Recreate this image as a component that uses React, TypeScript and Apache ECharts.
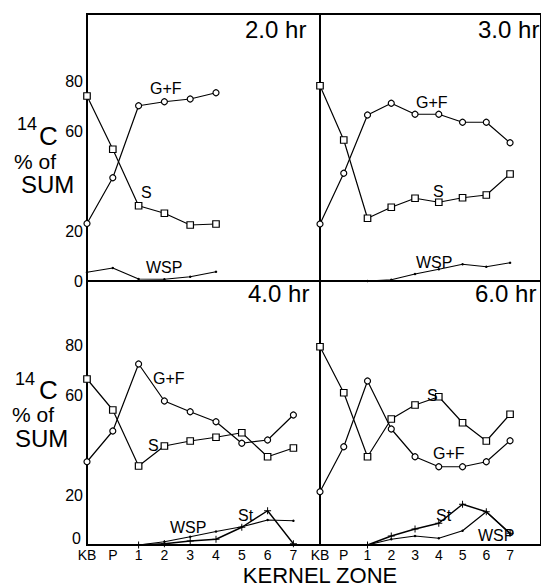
import React, { useEffect, useRef } from "react";
import * as echarts from "echarts";

const zones = ["KB", "P", "1", "2", "3", "4", "5", "6", "7"];
const yTickLabelsTop = [0, 20, 60, 80];
const yTickLabelsBottom = [20, 60, 80];

// 2.0 hr
const h2GF = [23, 41.3, 70.1, 71.7, 72.8, 75.3];
const h2S = [74, 52.7, 30.1, 27.1, 22.4, 22.8];
const h2WSP = [3.5, 5.2, 0.8, 0.7, 1.7, 3.7];
// 3.0 hr
const h3GF = [22.8, 43.1, 66.4, 71.1, 66.7, 66.7, 63.5, 63.5, 55.3];
const h3S = [78.1, 56.4, 25.1, 29.5, 33.1, 31.5, 33.3, 34.4, 42.8];
const h3WSP = [null, null, 0, 0.5, 2.8, 4.7, 6.7, 5.7, 7.3];
// 4.0 hr
const h4GF = [33.3, 45.6, 72.4, 57.6, 53.3, 49.3, 40.7, 42, 52];
const h4S = [66.4, 54, 31.6, 39.6, 41.6, 43.1, 44.9, 35.3, 38.8];
const h4WSP = [null, null, 0, 1.3, 3.3, 5.4, 7.3, 10, 9.7];
const h4St = [null, null, 0, 0.5, 1.6, 2.3, 7.1, 13.7, 0.5];
// 6.0 hr
const h6GF = [21.3, 39.3, 65.6, 46.4, 35.3, 31.3, 31.3, 33.3, 41.7];
const h6S = [79.3, 60.9, 35.3, 50.4, 56, 59.3, 48.9, 41.6, 52.3];
const h6WSP = [null, null, 0, 2.3, 3.6, 2.7, 5.7, 13.3, 4.5];
const h6St = [null, null, 0, 3.6, 6.4, 8.7, 16.3, 13.3, 4.7];

const FONT = "'Liberation Sans', Arial, sans-serif";
const XPX = 25.8;
const YPX = 2.5;

const toPts = (arr: (number | null)[]) =>
  arr.map((v, i) => (v === null ? null : [i, v])).filter((p) => p !== null);

const crossPath =
  "path://M-0.14,-1H0.14V-0.14H1V0.14H0.14V1H-0.14V0.14H-1V-0.14H-0.14Z";

export default function App() {
  const ref = useRef<HTMLDivElement>(null);
  useEffect(() => {
    if (!ref.current) return;
    const chart = echarts.init(ref.current, undefined, { renderer: "svg" });
    const grids = [
      { left: 87, top: 14, width: 233, height: 267 },
      { left: 320, top: 14, width: 240, height: 267 },
      { left: 87, top: 281, width: 233, height: 264 },
      { left: 320, top: 281, width: 240, height: 264 },
    ];
    const grid = grids.map((g) => ({
      ...g,
      show: true,
      borderColor: "#000",
      borderWidth: 2,
      backgroundColor: "transparent",
    }));
    const xAxis = grids.map((g, i) => ({
      type: "value",
      gridIndex: i,
      min: 0,
      max: g.width / XPX,
      interval: 1,
      axisLine: { show: false },
      axisTick: { show: false },
      splitLine: { show: false },
      axisLabel: {
        show: i >= 2,
        color: "#000",
        fontFamily: FONT,
        fontSize: 14,
        margin: 3,
        lineHeight: 14,
        showMaxLabel: false,
        formatter: (v: number) =>
          Number.isInteger(v) && v >= 0 && v <= 8 ? zones[v] : "",
      },
    }));
    const yAxis = grids.map((g, i) => {
      const shown = i === 0 ? yTickLabelsTop : yTickLabelsBottom;
      return {
        type: "value",
        gridIndex: i,
        min: 0,
        max: g.height / YPX,
        interval: 20,
        axisLine: { show: false },
        axisTick: { show: false },
        splitLine: { show: false },
        axisLabel: {
          show: i === 0 || i === 2,
          color: "#000",
          fontFamily: FONT,
          fontSize: 16,
          margin: 4,
          showMaxLabel: false,
          formatter: (v: number) => (shown.includes(v) ? String(v) : ""),
        },
      };
    });
    const line = { color: "#000", width: 1.2 };
    const mk = (
      data: (number | null)[],
      gi: number,
      kind: "GF" | "S" | "WSP" | "St"
    ) => {
      const base: any = {
        type: "line",
        xAxisIndex: gi,
        yAxisIndex: gi,
        data: toPts(data),
        lineStyle: line,
        silent: true,
        z: 3,
      };
      if (kind === "GF") {
        base.symbol = "circle";
        base.symbolSize = 6;
        base.itemStyle = { color: "#fff", borderColor: "#000", borderWidth: 1.2 };
      } else if (kind === "S") {
        base.symbol = "rect";
        base.symbolSize = 6.5;
        base.itemStyle = { color: "#fff", borderColor: "#000", borderWidth: 1.2 };
      } else if (kind === "WSP") {
        base.symbol = "circle";
        base.symbolSize = 2.5;
        base.itemStyle = { color: "#000" };
      } else {
        base.symbol = crossPath;
        base.symbolSize = 7;
        base.itemStyle = { color: "#000" };
        base.lineStyle = { color: "#000", width: 1.4 };
      }
      return base;
    };
    const series = [
      mk(h2WSP, 0, "WSP"),
      mk(h2S, 0, "S"),
      mk(h2GF, 0, "GF"),
      mk(h3WSP, 1, "WSP"),
      mk(h3S, 1, "S"),
      mk(h3GF, 1, "GF"),
      mk(h4WSP, 2, "WSP"),
      mk(h4St, 2, "St"),
      mk(h4S, 2, "S"),
      mk(h4GF, 2, "GF"),
      mk(h6WSP, 3, "WSP"),
      mk(h6St, 3, "St"),
      mk(h6S, 3, "S"),
      mk(h6GF, 3, "GF"),
    ];
    const txt = (
      text: string,
      x: number,
      y: number,
      size: number,
      align: string = "left"
    ) => ({
      type: "text",
      x,
      y,
      silent: true,
      z: 10,
      style: {
        text,
        fill: "#000",
        font: `${size}px ${FONT}`,
        textAlign: align,
        textVerticalAlign: "middle",
      },
    });
    const graphic = [
      // panel titles
      txt("2.0 hr", 245, 29, 24),
      txt("3.0 hr", 478, 29, 24),
      txt("4.0 hr", 248, 293, 24),
      txt("6.0 hr", 475, 293, 24),
      // y titles
      txt("14", 17, 124, 18),
      txt("C", 39, 136, 26),
      txt("% of", 14, 161, 21),
      txt("SUM", 21, 184, 24),
      txt("14", 15, 379, 18),
      txt("C", 39, 390, 26),
      txt("% of", 12, 414, 21),
      txt("SUM", 15, 438, 24),
      // zero of lower-left panel, lifted clear of the "KB" label
      txt("0", 81, 538, 16, "right"),
      // series labels
      txt("G+F", 150, 88, 16),
      txt("S", 141, 192, 16),
      txt("WSP", 146, 267, 16),
      txt("G+F", 416, 102, 16),
      txt("S", 433, 191, 16),
      txt("WSP", 416, 262, 16),
      txt("G+F", 153, 378, 16),
      txt("S", 148, 445, 16),
      txt("WSP", 170, 527, 16),
      txt("St", 238, 515, 16),
      txt("S", 427, 395, 16),
      txt("G+F", 433, 453, 16),
      txt("St", 436, 515, 16),
      txt("WSP", 478, 535, 16),
      // x title
      txt("KERNEL ZONE", 320, 575, 22, "center"),
    ];
    chart.setOption({
      animation: false,
      backgroundColor: "#fff",
      grid,
      xAxis,
      yAxis,
      series,
      graphic,
    });
    return () => chart.dispose();
  }, []);
  return (
    <div
      ref={ref}
      style={{ position: "absolute", left: 0, top: 0, width: 541, height: 586 }}
    />
  );
}
